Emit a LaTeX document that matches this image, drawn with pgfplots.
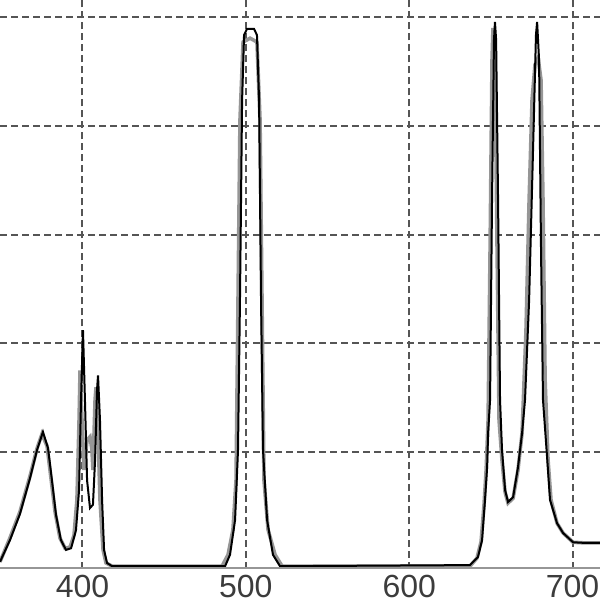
\documentclass[border=0pt]{standalone}
\usepackage{fontspec}
\setmainfont{Liberation Sans}
\setsansfont{Liberation Sans}
\usepackage{pgfplots}
\pgfplotsset{compat=1.18}
\definecolor{grayline}{RGB}{150,150,150}
\definecolor{gridc}{RGB}{85,85,85}
\definecolor{labc}{RGB}{60,60,60}
\begin{document}
\begin{tikzpicture}
\begin{axis}[
  name=ax,
  scale only axis, width=300pt, height=284.25pt,
  xmin=349.5, xmax=716.8, ymin=-0.01425, ymax=1.0313,
  axis line style={draw=none},
  xtick={400,500,600,700},
  ytick={0.2,0.4,0.6,0.8,1.0},
  yticklabels={},
  major tick length=0pt,
  grid=major,
  grid style={gridc, line width=1pt, dash pattern=on 3.5pt off 2pt},
  /pgf/number format/assume math mode=true,
  xticklabel style={font=\fontsize{16}{16}\selectfont, text=labc},
  clip=true,
]
\addplot[grayline, line width=1.8pt] coordinates {
(349.5,-0.002)(355.6,0.042)(361.7,0.090)(367.9,0.156)(372.2,0.207)(375.2,0.233)
(378.3,0.211)(380.7,0.152)(383.2,0.090)(386.2,0.042)(389.3,0.023)(392.4,0.025)
(394.8,0.047)(396.6,0.112)(397.9,0.259)(398.5,0.350)(399.7,0.259)(400.9,0.167)
(402.8,0.222)(404.6,0.228)(405.8,0.204)(406.4,0.167)(407.7,0.296)(408.3,0.319)
(409.5,0.240)(410.7,0.112)(412.6,0.020)(414.4,-0.004)(418.1,-0.010)
(485.4,-0.010)(489.1,0.011)(492.1,0.057)(494.0,0.148)(495.2,0.479)(496.4,0.810)
(498.3,0.954)(502.6,0.961)(506.8,0.954)(508.7,0.810)(509.9,0.479)(511.1,0.148)
(513.6,0.057)(517.9,0.011)(522.2,-0.010)
(637.2,-0.010)(641.5,0.005)(644.0,0.035)(645.8,0.103)(647.1,0.167)(648.3,0.259)
(649.5,0.571)(650.7,0.921)(651.3,0.980)(652.5,0.921)(653.8,0.571)(655.0,0.259)
(656.8,0.185)(658.7,0.126)(660.5,0.106)(663.6,0.115)(666.6,0.167)(669.1,0.235)
(671.5,0.424)(673.4,0.663)(675.2,0.847)(677.0,0.912)(678.9,0.925)(680.7,0.884)
(681.9,0.663)(683.2,0.332)(685.0,0.185)(686.8,0.112)(690.5,0.069)(694.2,0.051)
(700.3,0.034)(706.4,0.033)(716.8,0.033)
};
\addplot[black, line width=1pt] coordinates {
(349.5,-0.002)(355.6,0.038)(361.7,0.086)(367.9,0.152)(372.2,0.204)(375.8,0.237)
(378.9,0.207)(381.3,0.148)(383.8,0.084)(386.8,0.038)(389.9,0.020)(393.0,0.023)
(396.0,0.056)(397.9,0.130)(399.1,0.296)(400.3,0.424)(401.5,0.296)(402.8,0.148)
(404.6,0.097)(406.4,0.103)(407.7,0.185)(408.9,0.314)(409.5,0.341)(410.7,0.259)
(412.0,0.111)(413.2,0.020)(415.0,-0.004)(418.1,-0.010)
(487.3,-0.010)(490.3,0.011)(493.4,0.075)(495.2,0.204)(496.4,0.479)(497.7,0.847)
(498.9,0.967)(500.7,0.978)(505.0,0.978)(506.8,0.967)(508.1,0.847)(509.3,0.479)
(510.5,0.204)(513.0,0.075)(516.6,0.011)(520.9,-0.010)
(637.2,-0.008)(642.1,0.007)(644.6,0.038)(646.4,0.112)(647.7,0.172)(648.3,0.235)
(649.5,0.296)(650.7,0.663)(651.9,0.958)(652.5,0.991)(653.2,0.958)(654.4,0.663)
(655.6,0.296)(656.8,0.204)(658.7,0.130)(660.5,0.108)(663.6,0.117)(666.6,0.172)
(669.1,0.235)(670.9,0.296)(673.4,0.479)(675.8,0.755)(677.6,0.967)(678.3,0.991)
(679.5,0.921)(680.7,0.571)(681.9,0.296)(684.4,0.191)(686.2,0.112)(690.5,0.069)
(694.2,0.051)(700.3,0.034)(706.4,0.033)(716.8,0.033)
};
\draw[grayline, line width=1.5pt] (rel axis cs:0,0) -- (rel axis cs:1,0);
\end{axis}
\pgfresetboundingbox
\path[use as bounding box] (ax.south west) ++(0,-15.75pt) rectangle (ax.north east);
\end{tikzpicture}
\end{document}
